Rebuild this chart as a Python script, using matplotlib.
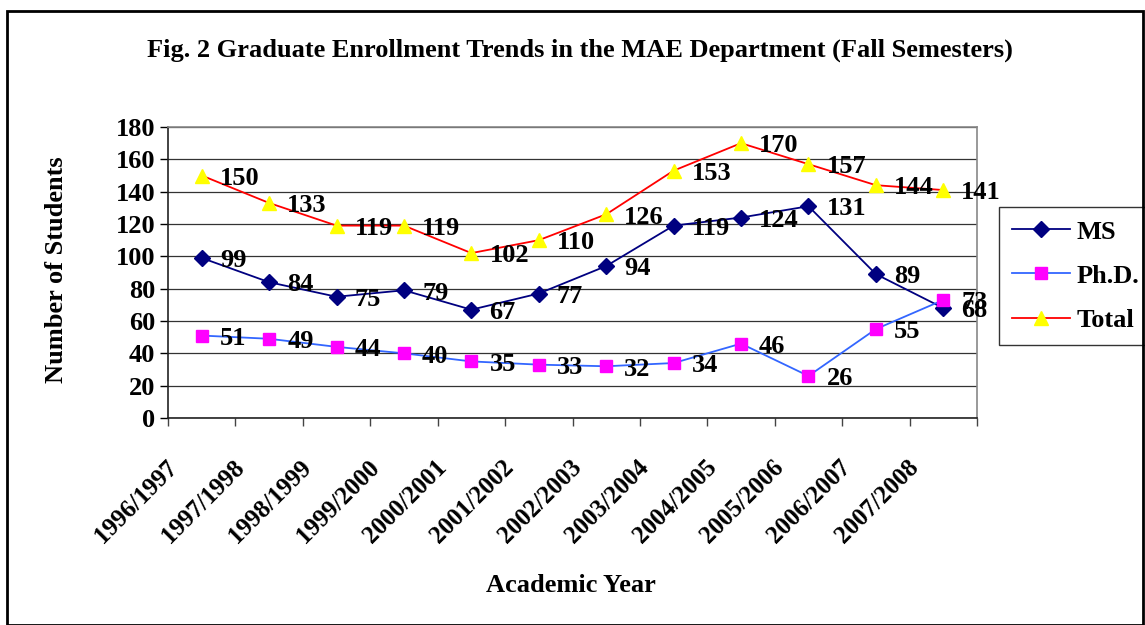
import matplotlib.pyplot as plt
from matplotlib.patches import Rectangle

years = ["1996/1997", "1997/1998", "1998/1999", "1999/2000", "2000/2001", "2001/2002",
         "2002/2003", "2003/2004", "2004/2005", "2005/2006", "2006/2007", "2007/2008"]
ms = [99, 84, 75, 79, 67, 77, 94, 119, 124, 131, 89, 68]
phd = [51, 49, 44, 40, 35, 33, 32, 34, 46, 26, 55, 73]
total = [150, 133, 119, 119, 102, 110, 126, 153, 170, 157, 144, 141]

plt.rcParams['font.family'] = ['Liberation Serif', 'DejaVu Serif']
plt.rcParams['font.weight'] = 'bold'

fig = plt.figure(figsize=(11.45, 6.25), dpi=100)
ax = fig.add_axes([168/1145, 1-418/625, (977-168)/1145, (418-127)/625])

x = list(range(len(years)))
series = [
    (ms, "MS", "#000080", "D", "#000080", 8),
    (phd, "Ph.D.", "#3366FF", "s", "#FF00FF", 9),
    (total, "Total", "#FF0000", "^", "#FFFF00", 10),
]
for vals, name, lc, mk, mc, msz in series:
    ax.plot(x, vals, color=lc, lw=1.3, marker=mk, markersize=msz,
            markerfacecolor=mc, markeredgecolor=mc, label=name, zorder=3)
    for xi, v in zip(x, vals):
        ax.annotate(str(v), (xi, v), xytext=(13, -2), textcoords='offset points',
                    ha='left', va='center', fontsize=19, fontweight='bold', zorder=4)

ax.set_xlim(-0.5, len(years) - 0.5)
ax.set_ylim(0, 180)
ax.set_yticks(range(0, 181, 20))
ax.yaxis.grid(True, color='#333333', lw=0.9)
ax.set_axisbelow(True)
ax.tick_params(axis='y', direction='out', length=6, width=1, labelsize=19, pad=3)

# ticks on category boundaries, labels shifted like the original
ax.set_xticks([i - 0.5 for i in range(len(years) + 1)])
ax.set_xticklabels([])
ax.tick_params(axis='x', which='major', direction='out', length=6, width=1, color='#444444')
ax.set_xticks([i - 0.3 for i in x], minor=True)
ax.set_xticklabels(years, minor=True, rotation=45, ha='right', va='top',
                   fontsize=18, fontweight='bold')
ax.tick_params(axis='x', which='minor', length=0, pad=27)

for s in ['top', 'right']:
    ax.spines[s].set_color('#888888')
    ax.spines[s].set_linewidth(1.2)
for s in ['left', 'bottom']:
    ax.spines[s].set_color('#222222')
    ax.spines[s].set_linewidth(1.2)

fig.text(57/1145, 1-270/625, "Number of Students", rotation=90, ha='center', va='center',
         fontsize=19, fontweight='bold')
fig.text(571/1145, 1-585/625, "Academic Year", ha='center', va='center',
         fontsize=19, fontweight='bold')
fig.text(580/1145, 1-50/625,
         "Fig. 2 Graduate Enrollment Trends in the MAE Department (Fall Semesters)",
         ha='center', va='center', fontsize=19, fontweight='bold')

leg = ax.legend(loc='upper left', bbox_to_anchor=(999/1145, 1-207/625),
                bbox_transform=fig.transFigure, borderaxespad=0, fancybox=False,
                edgecolor='black', fontsize=19, handlelength=2.2, labelspacing=0.78,
                borderpad=0.5, handletextpad=0.25)
leg.get_frame().set_linewidth(1.0)

fig.patches.append(Rectangle((7/1145, 0), (1143-7)/1145, 1-11/625,
                             transform=fig.transFigure, fill=False,
                             edgecolor='black', lw=2))

plt.savefig("out.png", dpi=100)
